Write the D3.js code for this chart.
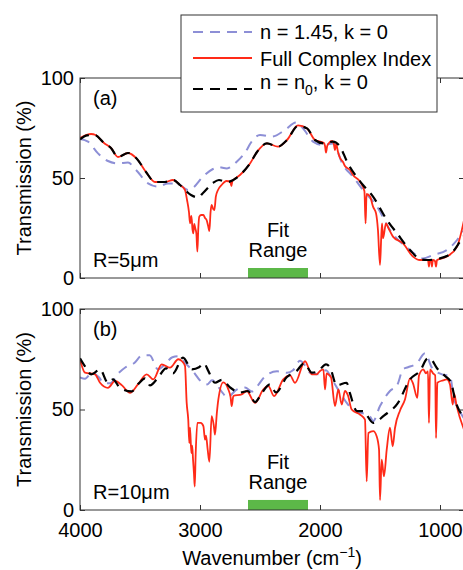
<!DOCTYPE html>
<html lang="en">
<head>
<meta charset="UTF-8">
<title>Transmission vs wavenumber</title>
<script src="https://cdn.jsdelivr.net/npm/d3@7"></script>
<style>
  body { margin: 0; background: #fff; }
  svg { display: block; font-family: "Liberation Sans", Arial, sans-serif; }
  .tick text { font-size: 20px; fill: #000; }
  .tick line { stroke: #333; }
</style>
</head>
<body>
<script>
// [wavenumber (cm^-1), transmission (%)]
const blueA = [[4000,69.5],[3933,68.2],[3850,62.3],[3767,58.5],[3683,57.3],[3600,57.7],[3533,54],[3433,47.3],[3350,45.7],[3267,47.3],[3183,47],[3100,44],[3060,45],[2975,50.7],[2892,54.5],[2850,55.5],[2775,54.8],[2692,58.2],[2611,64],[2583,67],[2500,71.5],[2400,70.7],[2292,74],[2200,77.7],[2142,74.8],[2058,68.2],[1975,66.5],[1892,67.3],[1808,56.5],[1725,50.7],[1642,44],[1525,35.7],[1417,24],[1250,14],[1142,9.8],[1058,11.5],[942,14],[858,19],[800,24]];
const redA = [[4000,70],[3908,72],[3870,71.5],[3800,67.5],[3742,65],[3683,60.5],[3600,62.5],[3525,59.5],[3450,53],[3375,48],[3292,48],[3225,49],[3167,46.5],[3125,44],[3108,39],[3092,33],[3083,27.3],[3072,31],[3062,24],[3056,22.3],[3048,27],[3040,25],[3030,22],[3022,13.2],[3014,25],[3006,30.7],[2990,31.5],[2972,31.5],[2958,30],[2945,29],[2932,26],[2922,23.5],[2912,33],[2903,36.5],[2890,34.5],[2880,34],[2868,40.7],[2850,44],[2820,46.5],[2780,48.5],[2748,48.2],[2738,46],[2730,48.5],[2700,50],[2667,51.5],[2583,57.3],[2525,63],[2442,67.3],[2350,65.7],[2275,69],[2183,76.3],[2108,74.8],[2042,69],[1967,67.5],[1958,66],[1950,62.7],[1940,66],[1925,67.5],[1900,68.5],[1885,67],[1875,64],[1865,67],[1850,63],[1833,60],[1808,58],[1792,56],[1750,54],[1725,51.5],[1667,48.2],[1630,43.5],[1620,27.3],[1612,42],[1583,40.7],[1558,35.7],[1533,32.3],[1517,24],[1500,6.5],[1490,20],[1483,27.3],[1475,19.8],[1450,27.3],[1430,25],[1392,20.7],[1308,17.3],[1225,10.7],[1167,9],[1100,9],[1092,5.7],[1085,9],[1075,9],[1067,5.7],[1060,9],[1042,8.5],[1033,5.7],[1025,9],[942,10.7],[858,15.7],[800,29]];
const blackA = [[4000,69.3],[3940,71.3],[3880,71.5],[3800,67.5],[3742,65],[3683,60.5],[3600,62.5],[3525,59.5],[3450,53],[3375,48],[3292,48],[3225,49],[3167,46.5],[3075,41.5],[3017,40.3],[2975,42.5],[2892,47.5],[2842,49],[2775,48],[2667,51.5],[2583,57.3],[2525,63],[2442,67.3],[2350,65.7],[2275,69],[2183,76],[2108,74.8],[2042,69],[1967,67.3],[1892,68.2],[1833,65.7],[1775,58.2],[1642,46.5],[1558,40.7],[1442,29],[1358,22.3],[1250,14],[1167,9.5],[1108,9],[1000,9.8],[892,13.2],[833,18.2],[800,21]];

const blueB = [[4000,66],[3958,65.3],[3900,68.3],[3842,66],[3800,63],[3750,63],[3680,68],[3620,71],[3550,73],[3480,77],[3420,77],[3350,70],[3300,72],[3230,76],[3183,76.5],[3125,73.3],[3058,69],[2983,63.5],[2940,62.5],[2900,64.5],[2808,58],[2775,56],[2692,60],[2625,61],[2567,59],[2517,62],[2458,66.5],[2358,69],[2275,68.3],[2225,69.5],[2167,74.2],[2125,72],[2083,68.3],[2017,67.5],[1950,69.5],[1900,65],[1833,58.3],[1767,52.5],[1692,49.2],[1583,46.5],[1558,44.2],[1500,51.7],[1417,59.2],[1358,62],[1308,70],[1267,71],[1192,73],[1125,78],[1067,70.8],[983,67.5],[917,66.7],[883,55],[858,51.7],[800,45.5]];
const redB = [[4000,75],[3958,68.3],[3875,67.5],[3833,63.3],[3767,60.8],[3708,64.2],[3650,62],[3583,58.3],[3517,62.5],[3444,67.5],[3389,65],[3319,72.5],[3250,70.8],[3181,75],[3150,74],[3125,71.7],[3111,53.3],[3098,45],[3089,33.3],[3083,41],[3072,28.3],[3065,32],[3058,25],[3050,18],[3044,11.7],[3036,28],[3022,43.3],[2994,43.3],[2972,41.7],[2958,35],[2950,37],[2936,30],[2922,24],[2903,46.7],[2885,42],[2875,37.5],[2860,48],[2847,55],[2806,63.5],[2764,60],[2745,56],[2736,51.7],[2722,56.7],[2653,57.5],[2611,59.2],[2542,53.3],[2472,60],[2431,61.7],[2383,56.7],[2306,65],[2250,67],[2208,63.3],[2125,74],[2069,67.5],[2028,67.5],[2000,69.2],[1972,70],[1958,60],[1945,68],[1931,67.5],[1908,66],[1875,51.7],[1847,60],[1819,52.5],[1792,59.2],[1767,57],[1736,50],[1667,47.5],[1625,45],[1611,14.2],[1597,38.3],[1556,39.2],[1528,36.7],[1508,30],[1500,5],[1486,25],[1467,16.7],[1444,30],[1417,41],[1394,31.7],[1375,40.8],[1333,49.5],[1292,55],[1250,65.5],[1225,63],[1189,55.8],[1175,67],[1139,70],[1117,68],[1100,69],[1092,43.3],[1083,70],[1058,68],[1040,67],[1033,35.8],[1022,63.3],[975,64.5],[944,65],[917,62.5],[894,52.5],[883,58],[861,51.7],[800,40]];
const blackB = [[4000,75.5],[3961,71.7],[3906,67.5],[3850,69.5],[3833,70],[3767,63.3],[3725,65],[3667,60.8],[3571,59],[3510,63],[3458,65.5],[3417,62],[3350,65.8],[3283,70.5],[3225,68],[3142,75.8],[3067,70],[3008,71],[2967,73],[2931,69.2],[2875,63.3],[2817,64.8],[2750,61],[2667,58.5],[2600,59.2],[2542,53.7],[2483,58.3],[2417,62.5],[2367,58.5],[2278,66],[2194,69.2],[2133,73],[2067,68.3],[2017,69],[1950,72.5],[1917,71],[1861,62],[1778,63.3],[1750,58],[1692,49.2],[1642,49.2],[1556,43.3],[1467,47],[1350,53.3],[1250,65],[1167,69.2],[1100,75.5],[1075,75],[1025,70.5],[958,66.7],[908,63.5],[875,55],[808,46],[800,45]];

const xTicks = [4000, 3000, 2000, 1000];
const yTicks = [0, 50, 100];
const fitRange = [2600, 2100];
const fitHeight = 5;
const legendLabels = ['n = 1.45, k = 0', 'Full Complex Index', 'n = n0, k = 0'];

const width = 463, height = 570;
const colors = { blue: '#8d8fd6', red: '#ff2a18', black: '#000', green: '#5cb848' };

const svg = d3.select('body').append('svg')
  .attr('width', width)
  .attr('height', height);

const x = d3.scaleLinear().domain([4000, 800]).range([80, 464]);

const panels = [
  { top: 78, bottom: 278, blue: blueA, red: redA, black: blackA, tag: '(a)', size: 'R=5\u03bcm', id: 'a' },
  { top: 309, bottom: 510, blue: blueB, red: redB, black: blackB, tag: '(b)', size: 'R=10\u03bcm', id: 'b' }
];

panels.forEach((p, i) => {
  const y = d3.scaleLinear().domain([0, 100]).range([p.bottom, p.top]);
  const g = svg.append('g');

  svg.append('clipPath').attr('id', 'clip-' + p.id)
    .append('rect')
    .attr('x', x(4000)).attr('y', p.top)
    .attr('width', x(800) - x(4000)).attr('height', p.bottom - p.top);

  // fit range bar
  g.append('rect')
    .attr('x', x(fitRange[0]))
    .attr('y', y(fitHeight))
    .attr('width', x(fitRange[1]) - x(fitRange[0]))
    .attr('height', y(0) - y(fitHeight))
    .attr('fill', colors.green);

  g.append('text').attr('x', x(2350)).attr('y', y(20.5))
    .attr('text-anchor', 'middle').style('font-size', '20px').text('Fit');
  g.append('text').attr('x', x(2350)).attr('y', y(10.5))
    .attr('text-anchor', 'middle').style('font-size', '20px').text('Range');

  const line = d3.line()
    .x(d => x(d[0]))
    .y(d => y(d[1]))
    .curve(d3.curveMonotoneX);

  const lines = g.append('g').attr('clip-path', 'url(#clip-' + p.id + ')');
  lines.append('path').datum(p.blue)
    .attr('d', line).attr('fill', 'none')
    .attr('stroke', colors.blue).attr('stroke-width', 2)
    .attr('stroke-dasharray', '10,7');
  lines.append('path').datum(p.red)
    .attr('d', line).attr('fill', 'none')
    .attr('stroke', colors.red).attr('stroke-width', 1.8)
    .attr('stroke-linejoin', 'round');
  lines.append('path').datum(p.black)
    .attr('d', line).attr('fill', 'none')
    .attr('stroke', colors.black).attr('stroke-width', 2.2)
    .attr('stroke-dasharray', '10,7');

  // axes with inward ticks on all four sides
  const bottomAxis = d3.axisBottom(x).tickValues(xTicks).tickSize(-5).tickPadding(13)
    .tickFormat(i === 1 ? d3.format('d') : '');
  g.append('g').attr('transform', `translate(0,${p.bottom})`).call(bottomAxis);
  g.append('g').attr('transform', `translate(0,${p.top})`)
    .call(d3.axisTop(x).tickValues(xTicks).tickSize(-5).tickFormat(''));
  g.append('g').attr('transform', `translate(${x(4000)},0)`)
    .call(d3.axisLeft(y).tickValues(yTicks).tickSize(-5).tickPadding(6));
  g.append('g').attr('transform', `translate(${x(800)},0)`)
    .call(d3.axisRight(y).tickValues(yTicks).tickSize(-5).tickFormat(''));
  g.selectAll('.domain').remove();
  g.selectAll('.tick text').attr('font-family', null).attr('font-size', null);

  g.append('rect')
    .attr('x', x(4000)).attr('y', p.top)
    .attr('width', x(800) - x(4000)).attr('height', p.bottom - p.top)
    .attr('fill', 'none').attr('stroke', '#333').attr('stroke-width', 1);

  g.append('text').attr('x', 93).attr('y', p.top + 27)
    .style('font-size', '20px').text(p.tag);
  g.append('text').attr('x', 93).attr('y', p.bottom - 11)
    .style('font-size', '20px').text(p.size);

  svg.append('text')
    .attr('transform', `translate(31,${(p.top + p.bottom) / 2}) rotate(-90)`)
    .attr('text-anchor', 'middle')
    .style('font-size', '20px')
    .text('Transmission (%)');
});

// x label
const xl = svg.append('text')
  .attr('x', 272).attr('y', 565)
  .attr('text-anchor', 'middle')
  .style('font-size', '20px');
xl.append('tspan').text('Wavenumber (cm');
xl.append('tspan').attr('dy', -8).style('font-size', '14px').text('\u22121');
xl.append('tspan').attr('dy', 8).text(')');

// legend
const legend = svg.append('g');
legend.append('rect')
  .attr('x', 181).attr('y', 15).attr('width', 256).attr('height', 97)
  .attr('fill', '#fff').attr('stroke', '#333').attr('stroke-width', 1);

const legendStyle = [
  { color: colors.blue, dash: '10,7', width: 2, ly: 32, ty: 39 },
  { color: colors.red, dash: null, width: 1.8, ly: 58, ty: 66 },
  { color: colors.black, dash: '10,7', width: 2.2, ly: 89, ty: 89 }
];

legendLabels.forEach((label, i) => {
  const s = legendStyle[i];
  legend.append('line')
    .attr('x1', 193).attr('x2', 252).attr('y1', s.ly).attr('y2', s.ly)
    .attr('stroke', s.color).attr('stroke-width', s.width)
    .attr('stroke-dasharray', s.dash);
  const t = legend.append('text').attr('x', 260).attr('y', s.ty).style('font-size', '20px');
  if (label.includes('n0')) {
    const parts = label.split('n0');
    t.append('tspan').text(parts[0] + 'n');
    t.append('tspan').attr('dy', 6).style('font-size', '14px').text('0');
    t.append('tspan').attr('dy', -6).text(parts[1]);
  } else {
    t.text(label);
  }
});
</script>
</body>
</html>
